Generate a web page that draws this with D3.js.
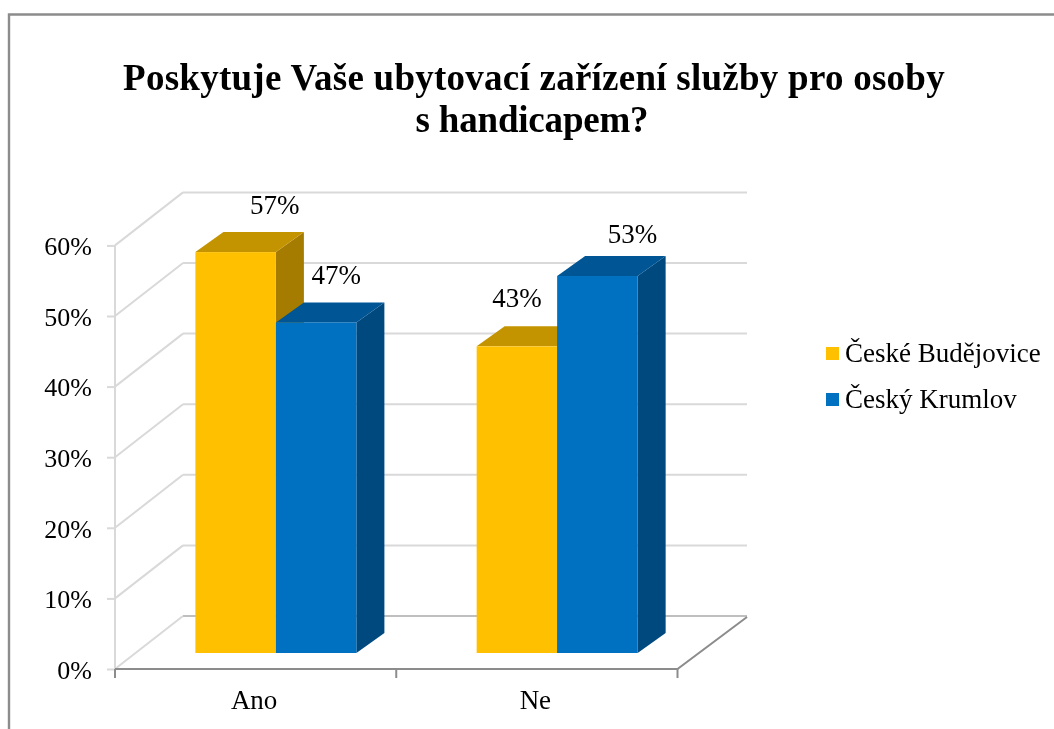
<!DOCTYPE html>
<html><head><meta charset="utf-8">
<script src="https://cdn.jsdelivr.net/npm/d3@7"></script>
<style>html,body{margin:0;padding:0;background:#fff}svg{display:block;filter:blur(0.45px)}text{font-family:"Liberation Serif",serif;fill:#000}</style>
</head><body><div id="c"></div>
<script>
const categories = ["Ano", "Ne"];
const seriesNames = ["České Budějovice", "Český Krumlov"];
const seriesCB = [57, 43.6];
const seriesCK = [47, 53.6];
const labelsCB = ["57%", "43%"];
const labelsCK = ["47%", "53%"];
const yTicks = [0, 10, 20, 30, 40, 50, 60];
const titleLines = ["Poskytuje Vaše ubytovací zařízení služby pro osoby", "s handicapem?"];
const colors = [{front:"#ffc000",top:"#c49400",side:"#a67c00"},{front:"#0070c0",top:"#005595",side:"#00497f"}];

const W=1054,H=729;
const svg=d3.select("#c").append("svg").attr("width",W).attr("height",H);
svg.append("path").attr("d","M9 729V14.5H1054").attr("fill","none").attr("stroke","#8c8c8c").attr("stroke-width",2.4);

const y=d3.scaleLinear().domain([0,60]).range([669,245.4]);
const barY=d3.scaleLinear().domain([0,60]).range([653,231]);
const x0=d3.scaleBand().domain(categories).range([115,677.5]);
const x1=d3.scaleBand().domain(seriesNames).range([80.4,241.4]);
const wall={dx:68,dy:-53};
const bar={dx:28,dy:-20};
const grid="#d9d9d9", axis="#8c8c8c";

const g=svg.append("g").attr("fill","none").attr("stroke",grid).attr("stroke-width",2);
yTicks.forEach(t=>{
  const yy=y(t);
  g.append("line").attr("x1",115).attr("y1",yy).attr("x2",115+wall.dx).attr("y2",yy+wall.dy);
  g.append("line").attr("x1",115+wall.dx).attr("y1",yy+wall.dy).attr("x2",747).attr("y2",yy+wall.dy).attr("stroke",t===0?"#bfbfbf":grid);
});
g.append("line").attr("x1",115).attr("y1",y(0)).attr("x2",115).attr("y2",y(60));

const yAxis=d3.axisLeft(y).tickValues(yTicks).tickSize(8).tickFormat(d=>d+"%");
const ya=svg.append("g").attr("transform","translate(115,0)").call(yAxis);
ya.select(".domain").remove();
ya.selectAll(".tick line").attr("stroke",grid).attr("stroke-width",2);
ya.selectAll(".tick text").attr("font-size",26).attr("font-family","Liberation Serif").attr("fill","#000").attr("x",-23).attr("dy","0.36em");

svg.append("path").attr("d",`M115 ${y(0)}H677.5L747 ${y(0)-52}`).attr("fill","none").attr("stroke",axis).attr("stroke-width",2);
const edges=[...categories.map(c=>x0(c)),x0(categories[1])+x0.bandwidth()];
svg.append("g").selectAll("line").data(edges).join("line")
 .attr("x1",d=>d).attr("x2",d=>d).attr("y1",y(0)).attr("y2",y(0)+9).attr("stroke",axis).attr("stroke-width",2);
svg.append("g").selectAll("text").data(categories).join("text")
 .attr("x",c=>x0(c)+x0.bandwidth()/2-1.5).attr("y",709).attr("text-anchor","middle").attr("font-size",27).text(c=>c);

const labelNudge={"Ano0":[39,-38],"Ano1":[20,-38],"Ne0":[0,-39],"Ne1":[35,-33]};
const rows=categories.map((c,i)=>[
  {c,s:seriesNames[0],v:seriesCB[i],lab:labelsCB[i],k:0},
  {c,s:seriesNames[1],v:seriesCK[i],lab:labelsCK[i],k:1}]);
const bw=x1.bandwidth();
rows.forEach(pair=>pair.forEach(d=>{
  const l=x0(d.c)+x1(d.s), r=l+bw, t=barY(d.v), b=barY(0), col=colors[d.k];
  svg.append("polygon").attr("points",`${r},${t} ${r+bar.dx},${t+bar.dy} ${r+bar.dx},${b+bar.dy} ${r},${b}`).attr("fill",col.side);
  svg.append("polygon").attr("points",`${l},${t} ${l+bar.dx},${t+bar.dy} ${r+bar.dx},${t+bar.dy} ${r},${t}`).attr("fill",col.top);
  svg.append("rect").attr("x",l).attr("y",t).attr("width",bw).attr("height",b-t).attr("fill",col.front);
}));
rows.forEach(pair=>pair.forEach(d=>{
  const l=x0(d.c)+x1(d.s), t=barY(d.v), n=labelNudge[d.c+d.k];
  svg.append("text").attr("x",l+bw/2+n[0]).attr("y",t+n[1]).attr("text-anchor","middle").attr("font-size",27).text(d.lab);
}));

svg.append("g").selectAll("text").data(titleLines).join("text")
 .attr("x",(d,i)=>i?532:534).attr("y",(d,i)=>i?132:90).attr("text-anchor","middle").attr("font-size",37).attr("letter-spacing",(d,i)=>i?-0.2:0.25).attr("font-weight","bold").text(d=>d);

const leg=svg.append("g").selectAll("g").data(seriesNames).join("g").attr("transform",(d,i)=>`translate(826,${353+i*46})`);
leg.append("rect").attr("x",0).attr("y",-6).attr("width",13).attr("height",13).attr("fill",(d,i)=>colors[i].front);
leg.append("text").attr("x",19).attr("y",9).attr("font-size",27).text(d=>d);
</script></body></html>
